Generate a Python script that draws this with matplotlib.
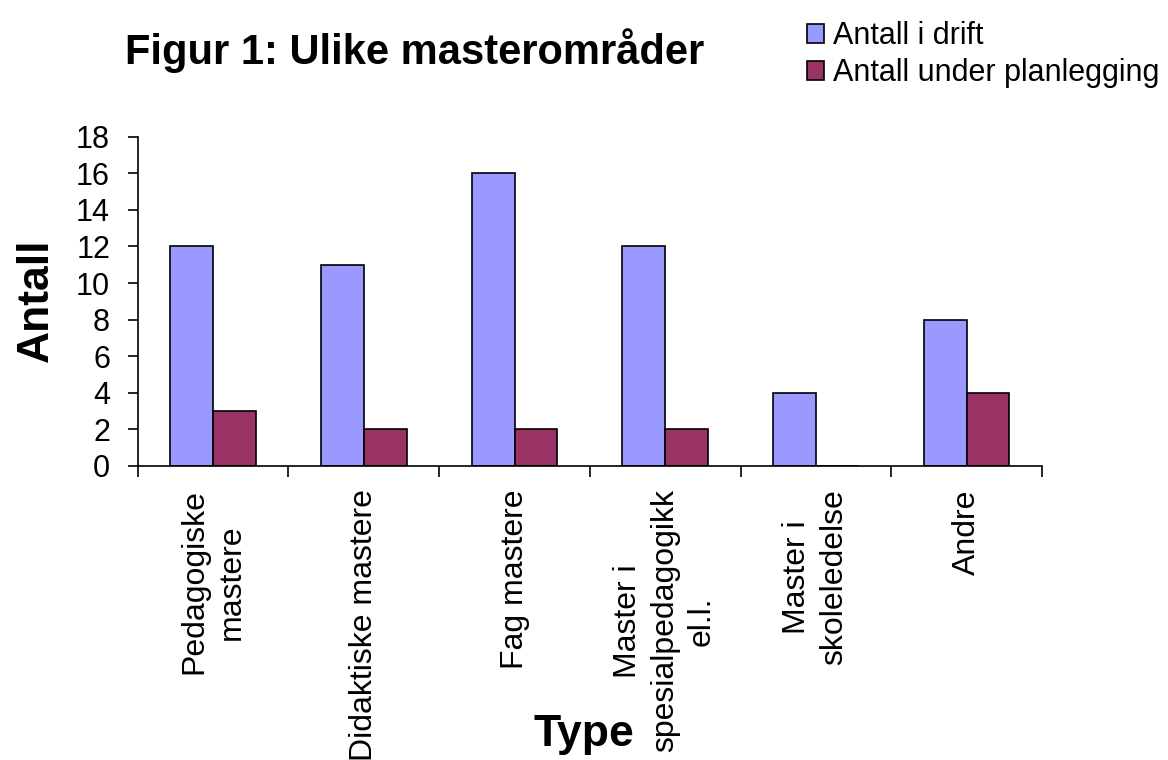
import numpy as np
import matplotlib.pyplot as plt

plt.rcParams['font.family'] = ['Liberation Sans', 'DejaVu Sans']

# Data
categories = ["Pedagogiske\nmastere", "Didaktiske mastere", "Fag mastere",
              "Master i\nspesialpedagogikk\nel.l.", "Master i\nskoleledelse", "Andre"]
i_drift = [12, 11, 16, 12, 4, 8]
under_planlegging = [3, 2, 2, 2, 0, 4]

fig = plt.figure(figsize=(11.68, 7.6), dpi=100)
ax = fig.add_axes([0.118, 0.387, 0.774, 0.433])

x = np.arange(len(categories))
w = 0.285
ax.bar(x - w / 2, i_drift, w, color="#9999FF", edgecolor="black", linewidth=1.2,
       label="Antall i drift")
ax.bar(x + w / 2, under_planlegging, w, color="#993366", edgecolor="black", linewidth=1.2,
       label="Antall under planlegging")

ax.set_xlim(-0.5, len(categories) - 0.5)
ax.set_ylim(0, 18)
ax.set_yticks(range(0, 19, 2))

# tick marks between groups, labels at centers
ax.set_xticks(np.arange(len(categories) + 1) - 0.5)
ax.set_xticklabels([])
ax.set_xticks(x, minor=True)
ax.set_xticklabels(categories, minor=True, rotation=90, ha="center", va="top",
                   multialignment="center", fontsize=23, linespacing=1.3)
ax.tick_params(axis="x", which="minor", length=0, pad=17)
ax.tick_params(axis="x", which="major", length=8, width=1.2, direction="out")
ax.tick_params(axis="y", length=7, width=1.2, labelsize=22, pad=13)

for s in ["top", "right"]:
    ax.spines[s].set_visible(False)
for s in ["left", "bottom"]:
    ax.spines[s].set_linewidth(1.2)

fig.text(36 / 1168, 1 - 300 / 760, "Antall", fontsize=32, fontweight="bold",
         rotation=90, ha="center", va="center")
fig.text(0.5, 0.033, "Type", fontsize=32, fontweight="bold", ha="center", va="center")
fig.text(0.355, 0.934, "Figur 1: Ulike masterområder", fontsize=30, fontweight="bold",
         ha="center", va="center")

fig.legend(loc="upper left", bbox_to_anchor=(0.673, 1.0), frameon=False, fontsize=22,
           handlelength=0.55, handleheight=0.55, handletextpad=0.3, labelspacing=0.22,
           borderaxespad=0.3)

fig.savefig("out.png", dpi=100)
